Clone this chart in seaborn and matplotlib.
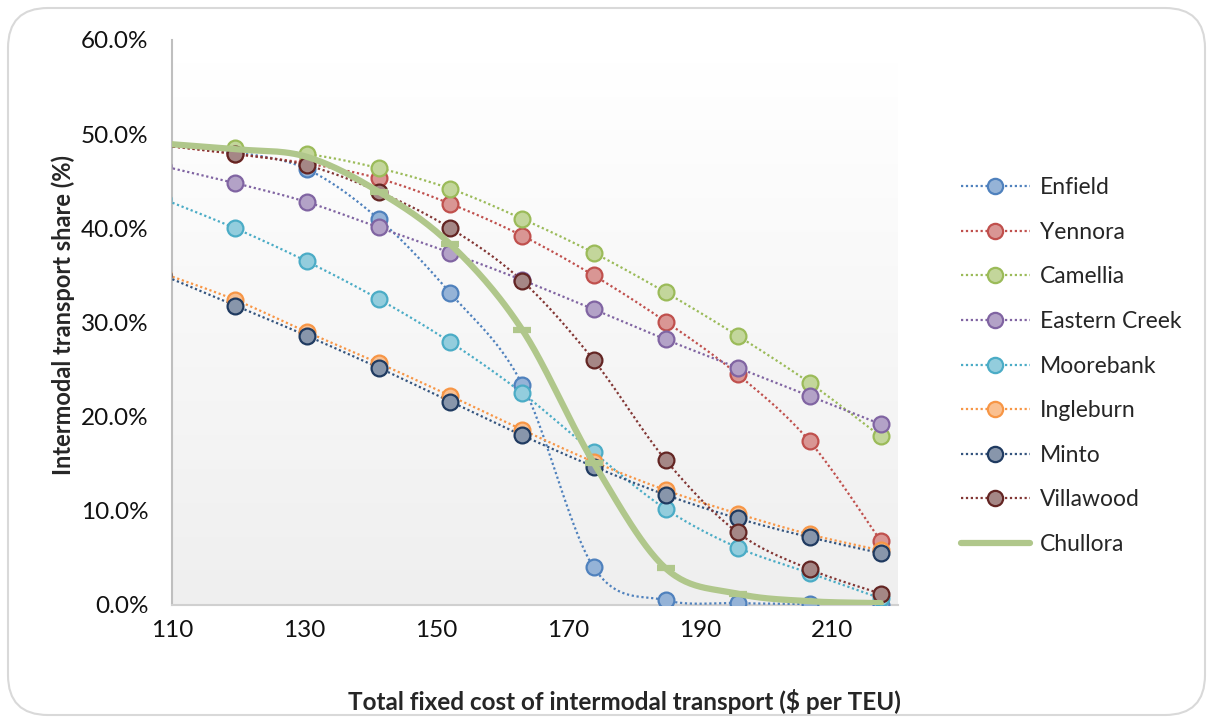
import numpy as np
import matplotlib.pyplot as plt
import seaborn as sns
import pandas as pd
from matplotlib.lines import Line2D
from matplotlib.patches import FancyBboxPatch
from matplotlib.colors import LinearSegmentedColormap
from matplotlib.ticker import PercentFormatter

# x values: total fixed cost ($ per TEU); first point sits just left of the axis
cost = [108.7, 119.6, 130.4, 141.3, 152.2, 163.1, 173.9, 184.8, 195.7, 206.6, 217.4]

sites = ["Enfield", "Yennora", "Camellia", "Eastern Creek", "Moorebank",
         "Ingleburn", "Minto", "Villawood", "Chullora"]

enfield = [48.9, 48.1, 46.3, 41.0, 33.1, 23.4, 4.0, 0.5, 0.2, 0.1, 0.0]
yennora = [48.8, 47.9, 46.9, 45.3, 42.6, 39.2, 35.0, 30.1, 24.5, 17.4, 6.8]
camellia = [48.9, 48.5, 47.9, 46.4, 44.2, 41.0, 37.4, 33.2, 28.6, 23.6, 17.9]
eastern_creek = [46.6, 44.8, 42.8, 40.1, 37.4, 34.5, 31.4, 28.2, 25.2, 22.2, 19.2]
moorebank = [43.1, 40.0, 36.5, 32.5, 27.9, 22.5, 16.2, 10.2, 6.1, 3.4, 0.7]
ingleburn = [35.2, 32.4, 29.0, 25.7, 22.2, 18.6, 15.2, 12.2, 9.7, 7.5, 5.8]
minto = [35.0, 31.8, 28.6, 25.2, 21.6, 18.0, 14.7, 11.7, 9.2, 7.2, 5.5]
villawood = [48.8, 47.9, 46.7, 43.9, 40.0, 34.4, 26.0, 15.4, 7.7, 3.8, 1.2]
chullora = [49.0, 48.4, 47.6, 43.9, 38.3, 29.2, 15.1, 3.9, 1.2, 0.4, 0.2]

line_colors = ["#4f81bd", "#c0504d", "#9bbb59", "#8064a2", "#4bacc6",
               "#f79646", "#34547e", "#823634", "#b0c78b"]
edge_colors = ["#4f81bd", "#c0504d", "#9bbb59", "#8064a2", "#4bacc6",
               "#f79646", "#1f3a60", "#632523", "#b0c78b"]
face_colors = ["#95b3d7", "#d99694", "#c3d69b", "#b3a2c7", "#93cddd",
               "#fac090", "#8896ab", "#a58786", "#b0c78b"]

series = [enfield, yennora, camellia, eastern_creek, moorebank,
          ingleburn, minto, villawood, chullora]


def smooth(x, y, n=30):
    # Bezier smoothing through the points (like Excel's "smoothed line")
    p = np.column_stack([x, y]).astype(float)
    pts = []
    for i in range(len(p) - 1):
        p0 = p[i - 1] if i > 0 else p[i]
        p3 = p[i + 2] if i + 2 < len(p) else p[i + 1]
        c1 = p[i] + (p[i + 1] - p0) / 6
        c2 = p[i + 1] - (p3 - p[i]) / 6
        t = np.linspace(0, 1, n)[:, None]
        seg = ((1 - t) ** 3 * p[i] + 3 * (1 - t) ** 2 * t * c1
               + 3 * (1 - t) * t ** 2 * c2 + t ** 3 * p[i + 1])
        pts.append(seg if i == 0 else seg[1:])
    s = np.vstack(pts)
    return s[:, 0], s[:, 1]


sns.set_style("white")
plt.rcParams["font.family"] = ["Lato", "DejaVu Sans"]

fig = plt.figure(figsize=(12.1, 7.18), dpi=100)
ax = fig.add_axes([0.1421, 0.1574, 0.6, 0.7869])

# plot area gradient (white -> light grey)
grad = np.linspace(0, 1, 256)[:, None]
ax.imshow(grad, aspect="auto",
          cmap=LinearSegmentedColormap.from_list("g", ["#ffffff", "#efefef"]),
          extent=(0, 1, 0, 0.961), origin="upper",
          transform=ax.transAxes, zorder=0)

handles = []
for name, vals, lc, ec, fc in zip(sites, series, line_colors,
                                  edge_colors, face_colors):
    sx, sy = smooth(cost, vals)
    df = pd.DataFrame({"x": sx, "y": sy})
    if name == "Chullora":
        sns.lineplot(data=df, x="x", y="y", ax=ax, sort=False, color=lc,
                     linewidth=4.5, zorder=5, solid_capstyle="round")
        ax.plot(cost[3:9], vals[3:9], linestyle="none", marker="_",
                markersize=13, markeredgewidth=4.5, color=lc, zorder=5)
        handles.append(Line2D([], [], color=lc, linewidth=4.5,
                              solid_capstyle="round"))
    else:
        sns.lineplot(data=df, x="x", y="y", ax=ax, sort=False, color=lc,
                     linewidth=1.6, linestyle=(0, (1, 1.2)), zorder=3)
        mdf = pd.DataFrame({"x": cost, "y": vals})
        sns.scatterplot(data=mdf, x="x", y="y", ax=ax, s=130, color=fc,
                        edgecolor=ec, linewidth=1.6, zorder=4)
        handles.append(Line2D([], [], color=lc, linewidth=1.6,
                              linestyle=(0, (1, 1.2)), marker="o",
                              markersize=11, markerfacecolor=fc,
                              markeredgecolor=ec, markeredgewidth=1.6))

ax.set_xlim(110, 220)
ax.set_ylim(0, 60)
ax.set_xticks(range(110, 211, 20))
ax.set_yticks(range(0, 61, 10))
ax.yaxis.set_major_formatter(PercentFormatter(decimals=1))
ax.tick_params(axis="both", length=0, labelsize=17.5, colors="#111111")
ax.tick_params(axis="y", pad=17)
ax.tick_params(axis="x", pad=11)
for side in ["top", "right"]:
    ax.spines[side].set_visible(False)
ax.spines["left"].set_color("#bfbfbf")
ax.spines["left"].set_linewidth(1.5)
ax.spines["bottom"].set_color("#d0d0d0")
ax.spines["bottom"].set_linewidth(1.5)
ax.grid(False)
ax.set_facecolor("white")

ax.set_xlabel("Total fixed cost of intermodal transport ($ per TEU)",
              fontsize=17.5, fontweight="bold")
ax.set_ylabel("Intermodal transport share (%)", fontsize=17,
              fontweight="bold")
ax.xaxis.set_label_coords(0.623, -0.148)
ax.yaxis.set_label_coords(-0.134, 0.513)

fig.legend(handles, sites, loc="upper left",
           bbox_to_anchor=(0.777, 0.782), frameon=False, fontsize=16.5,
           handlelength=3.0, labelspacing=1.03, handletextpad=0.45)

border = FancyBboxPatch((0.08, 0.03), 11.97, 7.07,
                        boxstyle="round,pad=0,rounding_size=0.4",
                        transform=fig.dpi_scale_trans, facecolor="none",
                        edgecolor="#d9d9d9", linewidth=1.5, zorder=-1)
fig.patches.append(border)

fig.savefig("out.png", dpi=100)
